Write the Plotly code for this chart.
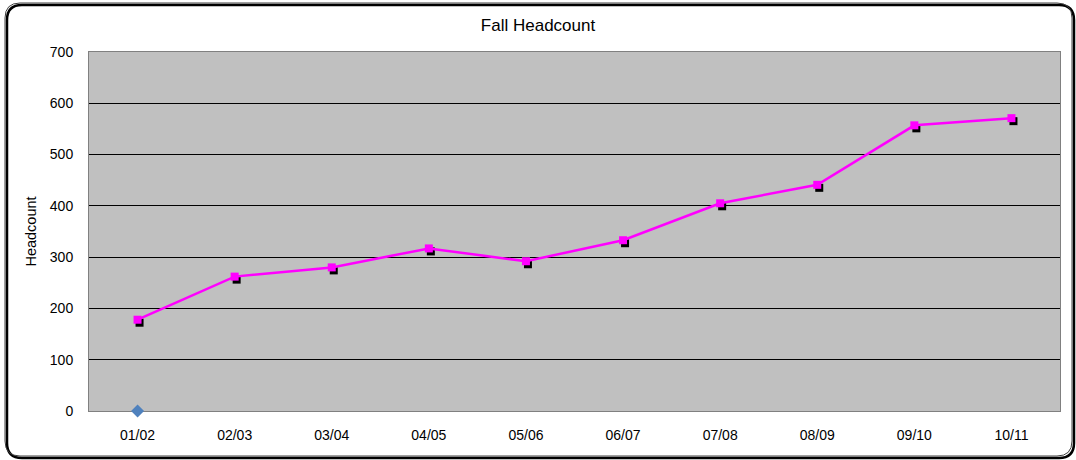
import plotly.graph_objects as go

years = ["01/02", "02/03", "03/04", "04/05", "05/06", "06/07", "07/08", "08/09", "09/10", "10/11"]
headcount = [178, 262, 280, 317, 292, 333, 405, 441, 557, 571]
extra_cat = ["01/02"]
extra_val = [0]
y_ticks = [0, 100, 200, 300, 400, 500, 600, 700]

W, H = 1076, 460
L, R, T, B = 89, 1060, 52, 411
pw, ph = R - L, B - T
ncat = len(years)
cat_px = pw / ncat
ymax = 700

def px(x):
    return (x - L) / pw

def py(y):
    return (B - y) / ph

fig = go.Figure()

# base axes trace (keeps the grid subplot alive)
fig.add_trace(go.Scatter(x=extra_cat, y=extra_val, mode="markers",
                         marker=dict(symbol="diamond", size=10, color="#4F81BD"),
                         showlegend=False, cliponaxis=False))
# shadow markers (offset a few pixels right/down)
fig.add_trace(go.Scatter(x=years, y=headcount, mode="markers",
                         marker=dict(symbol="square", size=8, color="black"),
                         xaxis="x2", yaxis="y2", showlegend=False, hoverinfo="skip"))
# main line
fig.add_trace(go.Scatter(x=years, y=headcount, mode="lines+markers",
                         line=dict(color="#FF00FF", width=2.5),
                         marker=dict(symbol="square", size=8, color="#FF00FF"),
                         xaxis="x3", yaxis="y3", showlegend=False))

dx = 2 / cat_px
dy = 3 * ymax / ph

font = dict(family="Liberation Sans, Arial, sans-serif", size=14, color="black")

fig.update_layout(
    width=W, height=H,
    margin=dict(l=L, r=W - R, t=T, b=H - B),
    paper_bgcolor="white", plot_bgcolor="#C0C0C0",
    font=font,
    title=dict(text="Fall Headcount", x=0.5, xanchor="center", y=1 - 25 / H, yanchor="middle",
               font=dict(size=17, family="Liberation Sans, Arial, sans-serif", color="black")),
    xaxis=dict(type="category", categoryorder="array", categoryarray=years,
               range=[-0.5, ncat - 0.5], showgrid=False, showline=True, linecolor="#808080",
               linewidth=1, mirror=True, ticks="", tickfont=dict(size=14), zeroline=False,
               layer="below traces", fixedrange=True, ticklabelstandoff=11),
    yaxis=dict(range=[0, ymax], tickvals=y_ticks, showgrid=True, gridcolor="black",
               gridwidth=1, showline=True, linecolor="#808080", linewidth=1, mirror=True,
               ticks="", zeroline=False, tickfont=dict(size=14), layer="below traces",
               ticklabelstandoff=12, fixedrange=True,
               title=dict(text="Headcount", font=dict(size=14.5), standoff=9)),
    xaxis2=dict(type="category", categoryorder="array", categoryarray=years,
                range=[-0.5 - dx, ncat - 0.5 - dx], overlaying="x", visible=False),
    yaxis2=dict(range=[dy, ymax + dy], overlaying="y", visible=False),
    xaxis3=dict(type="category", categoryorder="array", categoryarray=years,
                range=[-0.5, ncat - 0.5], overlaying="x", visible=False),
    yaxis3=dict(range=[0, ymax], overlaying="y", visible=False),
)

# rounded chart-area border with dark shadow on bottom/right
x0, y0, x1, y1, r = 5, 3, 1072, 456, 15

def rr(x0, y0, x1, y1, r):
    return (f"M {px(x0+r)},{py(y0)} L {px(x1-r)},{py(y0)} "
            f"Q {px(x1)},{py(y0)} {px(x1)},{py(y0+r)} "
            f"L {px(x1)},{py(y1-r)} Q {px(x1)},{py(y1)} {px(x1-r)},{py(y1)} "
            f"L {px(x0+r)},{py(y1)} Q {px(x0)},{py(y1)} {px(x0)},{py(y1-r)} "
            f"L {px(x0)},{py(y0+r)} Q {px(x0)},{py(y0)} {px(x0+r)},{py(y0)} Z")

fig.add_shape(type="path", xref="paper", yref="paper", path=rr(x0 + 2, y0 + 2, x1 + 2, y1 + 2, r),
              line=dict(color="black", width=2.5), layer="below")
fig.add_shape(type="path", xref="paper", yref="paper", path=rr(x0, y0, x1, y1, r),
              line=dict(color="#404040", width=1), layer="below")

fig.write_html("out.html", config={"displayModeBar": False},
               post_script="document.body.style.margin='0';")
